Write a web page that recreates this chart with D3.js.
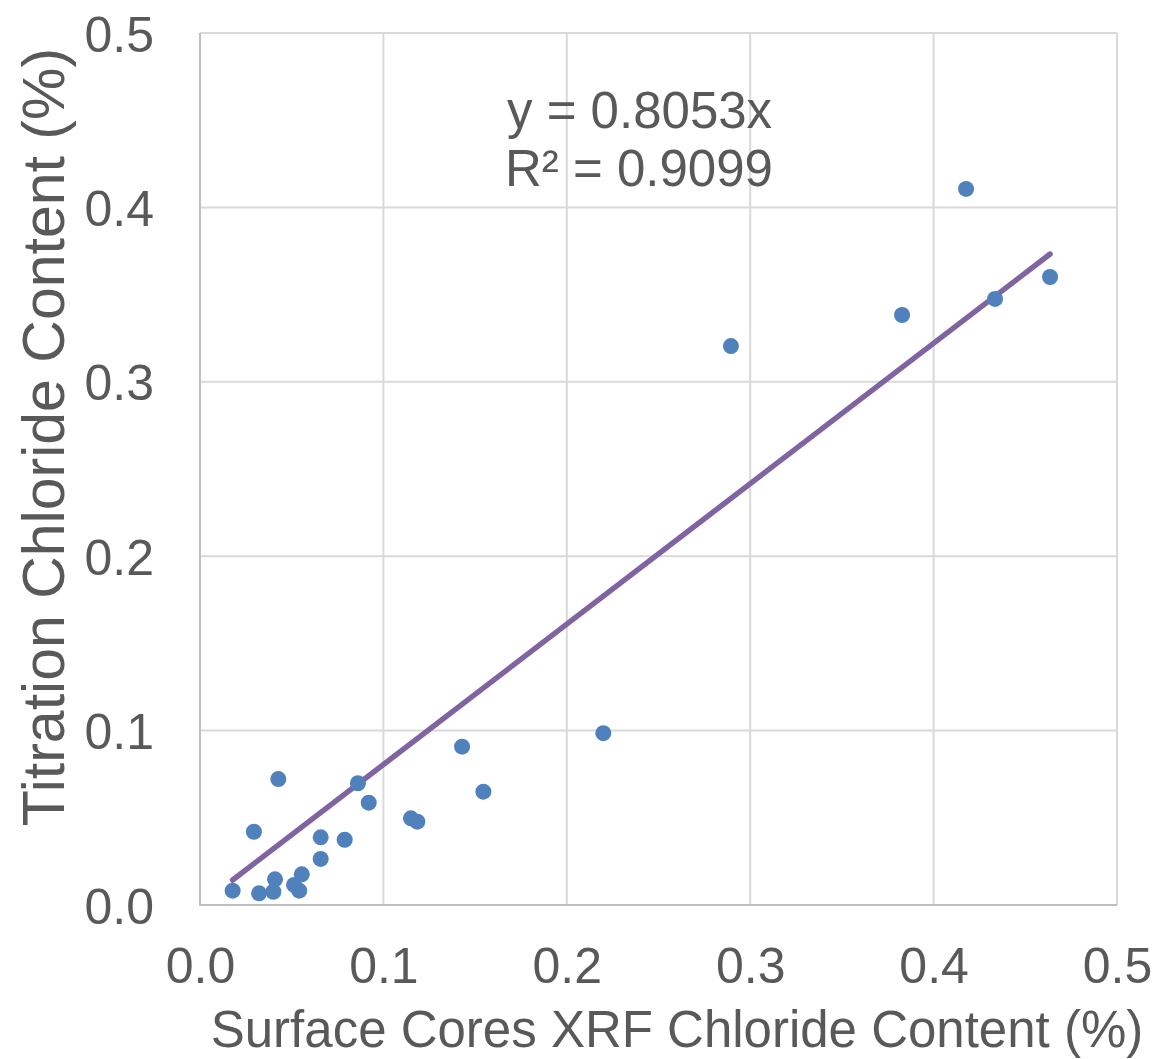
<!DOCTYPE html>
<html>
<head>
<meta charset="utf-8">
<script src="https://cdn.jsdelivr.net/npm/d3@7"></script>
<style>
  body { margin: 0; background: #fff; }
  svg text { font-family: "Liberation Sans", Arial, sans-serif; fill: #595959; }
</style>
</head>
<body>
<svg id="chart" width="1172" height="1059"></svg>
<script>
// data
var xrf = [0.0178, 0.0322, 0.0400, 0.0409, 0.0294, 0.0427, 0.0513, 0.0541, 0.0555, 0.0658,
           0.0658, 0.0789, 0.0861, 0.0920, 0.1150, 0.1185, 0.1429, 0.1545, 0.2199, 0.2895,
           0.3828, 0.4177, 0.4335, 0.4635];
var titration = [0.0082, 0.0067, 0.0076, 0.0147, 0.0420, 0.0722, 0.0115, 0.0082, 0.0176, 0.0264,
                 0.0388, 0.0374, 0.0698, 0.0587, 0.0497, 0.0478, 0.0908, 0.0650, 0.0985, 0.3205,
                 0.3383, 0.4106, 0.3475, 0.3601];
var slope = 0.8053;
var r2 = 0.9099;
var ticks = [0, 0.1, 0.2, 0.3, 0.4, 0.5];

var svg = d3.select('#chart');
// plot box (pixels)
var pLeft = 200, pRight = 1117, pTop = 33, pBottom = 905;

var x = d3.scaleLinear().domain([0, 0.5]).range([pLeft, pRight]);
var y = d3.scaleLinear().domain([0, 0.5]).range([pBottom, pTop]);

var points = xrf.map(function(v, i) { return {x: v, y: titration[i]}; });

// grid
svg.append('g').selectAll('line').data(ticks.slice(1)).enter().append('line')
    .attr('x1', function(d) { return x(d); }).attr('x2', function(d) { return x(d); })
    .attr('y1', pTop).attr('y2', pBottom)
    .attr('stroke', '#d9d9d9').attr('stroke-width', 2);
svg.append('g').selectAll('line').data(ticks.slice(1)).enter().append('line')
    .attr('x1', pLeft).attr('x2', pRight)
    .attr('y1', function(d) { return y(d); }).attr('y2', function(d) { return y(d); })
    .attr('stroke', '#d9d9d9').attr('stroke-width', 2);

// axis lines
svg.append('line').attr('x1', pLeft).attr('x2', pLeft).attr('y1', pTop).attr('y2', pBottom + 1)
    .attr('stroke', '#bfbfbf').attr('stroke-width', 2);
svg.append('line').attr('x1', pLeft - 1).attr('x2', pRight).attr('y1', pBottom).attr('y2', pBottom)
    .attr('stroke', '#bfbfbf').attr('stroke-width', 2);

// axes with d3, labels only
var xAxis = d3.axisBottom(x).tickValues(ticks).tickFormat(d3.format('.1f')).tickSize(0).tickPadding(0);
var yAxis = d3.axisLeft(y).tickValues(ticks).tickFormat(d3.format('.1f')).tickSize(0).tickPadding(0);

svg.append('g').attr('transform', 'translate(0,' + pBottom + ')').call(xAxis)
    .call(function(g) {
        g.select('.domain').remove();
        g.selectAll('text').attr('font-size', 50).attr('dy', 78).attr('fill', '#595959')
            .attr('font-family', '"Liberation Sans", Arial, sans-serif');
    });
svg.append('g').attr('transform', 'translate(' + (pLeft - 46) + ',0)').call(yAxis)
    .call(function(g) {
        g.select('.domain').remove();
        g.selectAll('text').attr('font-size', 50).attr('dy', '0.36em').attr('fill', '#595959')
            .attr('font-family', '"Liberation Sans", Arial, sans-serif');
    });

// trendline through origin
var xs = d3.extent(xrf);
var line = d3.line().x(function(d) { return x(d); }).y(function(d) { return y(slope * d); });
svg.append('path').attr('d', line(xs))
    .attr('stroke', '#8064a2').attr('stroke-width', 5.5).attr('stroke-linecap', 'round')
    .attr('fill', 'none');

// points
svg.append('g').selectAll('circle').data(points).enter().append('circle')
    .attr('cx', function(d) { return x(d.x); })
    .attr('cy', function(d) { return y(d.y); })
    .attr('r', 8)
    .attr('fill', '#4f81bd');

// equation
svg.append('text').attr('x', 507).attr('y', 128).attr('font-size', 51).text('y = ' + slope + 'x');
svg.append('text').attr('x', 505).attr('y', 186).attr('font-size', 51).text('R² = ' + r2);

// titles
svg.append('text').attr('x', 677).attr('y', 1047)
    .attr('text-anchor', 'middle').attr('font-size', 51)
    .text('Surface Cores XRF Chloride Content (%)');
svg.append('text').attr('transform', 'translate(64,437) rotate(-90)')
    .attr('text-anchor', 'middle').attr('font-size', 59)
    .text('Titration Chloride Content (%)');
</script>
</body>
</html>
